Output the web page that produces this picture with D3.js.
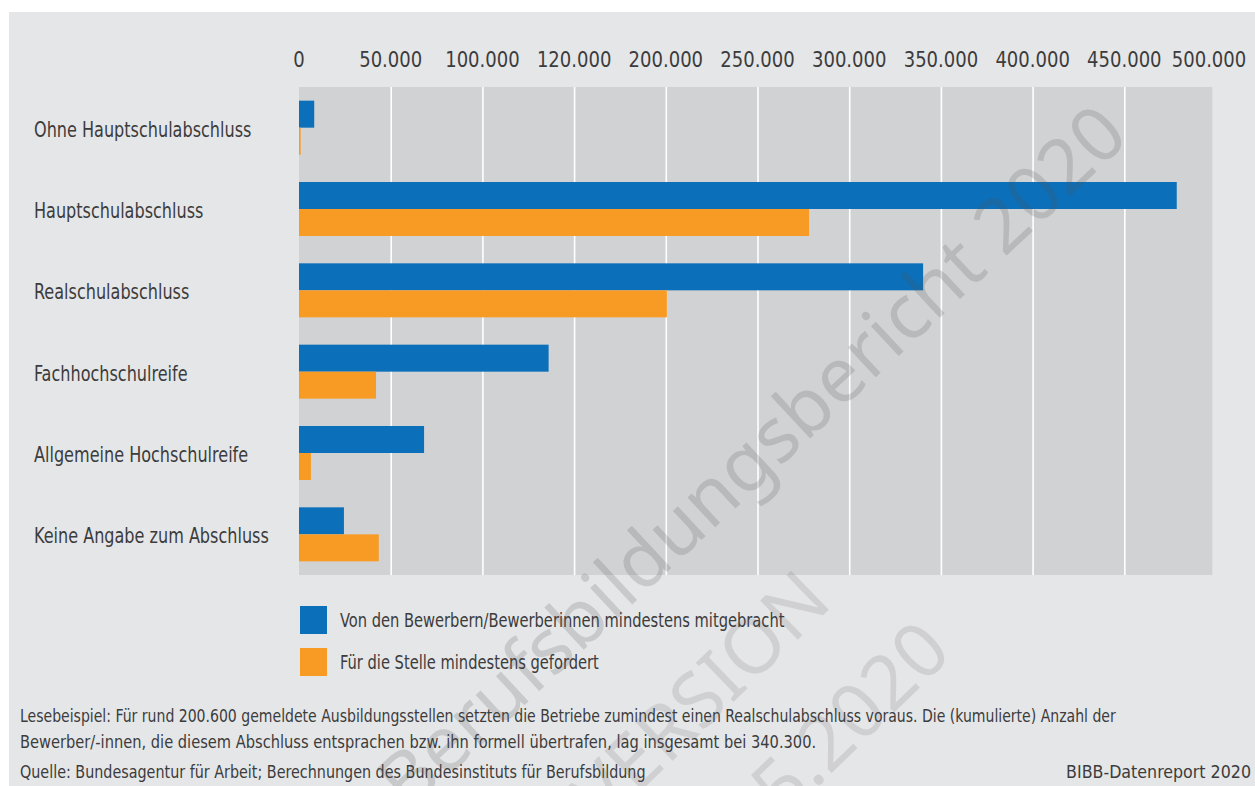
<!DOCTYPE html>
<html>
<head>
<meta charset="utf-8">
<script src="https://cdn.jsdelivr.net/npm/d3@7"></script>
<style>
  html, body { margin: 0; padding: 0; background: #ffffff; }
  svg { display: block; }
  .lbl { font-family: "DejaVu Sans Condensed", "DejaVu Sans", sans-serif; font-stretch: condensed; fill: #3c3c3c; }
  .wm { font-family: "Noto Sans", "DejaVu Sans", sans-serif; }
</style>
</head>
<body>
<svg id="chart" width="1255" height="786"></svg>
<script>
// Schulabschlüsse (kumuliert), Anzahl
const categories = [
  "Ohne Hauptschulabschluss",
  "Hauptschulabschluss",
  "Realschulabschluss",
  "Fachhochschulreife",
  "Allgemeine Hochschulreife",
  "Keine Angabe zum Abschluss"
];
const mitgebracht = [8300, 478600, 340300, 136100, 68200, 24500];
const gefordert   = [900, 278100, 200600, 42000, 6500, 43500];

const seriesNames = [
  "Von den Bewerbern/Bewerberinnen mindestens mitgebracht",
  "Für die Stelle mindestens gefordert"
];

const tickValues = [0, 50000, 100000, 150000, 200000, 250000, 300000, 350000, 400000, 450000, 500000];
const tickLabels = ["0", "50.000", "100.000", "120.000", "200.000", "250.000", "300.000", "350.000", "400.000", "450.000", "500.000"];

const noteLines = [
  "Lesebeispiel: Für rund 200.600 gemeldete Ausbildungsstellen setzten die Betriebe zumindest einen Realschulabschluss voraus. Die (kumulierte) Anzahl der",
  "Bewerber/-innen, die diesem Abschluss entsprachen bzw. ihn formell übertrafen, lag insgesamt bei 340.300."
];
const sourceText = "Quelle: Bundesagentur für Arbeit; Berechnungen des Bundesinstituts für Berufsbildung";
const creditText = "BIBB-Datenreport 2020";

// ---- layout ----
const W = 1255, H = 786;
const plotTop = 87, plotBottom = 575;
const axisMax = 498000;             // right edge of the grey plot area
const colBlue = "#0b6fba", colOrange = "#f89b24";

// squeeze a text horizontally to a fraction of its natural width
function condense(sel, ratio) {
  sel.each(function () {
    const len = this.getComputedTextLength();
    d3.select(this).attr("textLength", len * ratio).attr("lengthAdjust", "spacingAndGlyphs");
  });
  return sel;
}

const svg = d3.select("#chart");

svg.append("rect").attr("x", 9).attr("y", 12).attr("width", W - 9).attr("height", H - 12)
  .attr("fill", "#e5e6e8");

const x = d3.scaleLinear().domain([0, 500000]).range([299, 1216]);
const y = d3.scaleBand().domain(categories).range([plotTop, plotBottom])
  .paddingInner(0.336).paddingOuter(0.168);

// plot area
svg.append("rect")
  .attr("x", x(0)).attr("y", plotTop)
  .attr("width", x(axisMax) - x(0)).attr("height", plotBottom - plotTop)
  .attr("fill", "#d1d2d4");

// vertical grid lines
const grid = svg.append("g").attr("transform", `translate(0,${plotTop})`)
  .call(d3.axisBottom(x)
    .tickValues(tickValues.filter(v => v > 0 && v < axisMax))
    .tickSize(plotBottom - plotTop).tickFormat(""));
grid.select(".domain").remove();
grid.selectAll(".tick line").attr("stroke", "#ffffff").attr("stroke-width", 1.6);

// value axis labels on top
const axisTop = svg.append("g").attr("transform", "translate(0,67)")
  .call(d3.axisTop(x).tickValues(tickValues)
    .tickFormat((d, i) => tickLabels[i]).tickSize(0).tickPadding(0));
axisTop.select(".domain").remove();
axisTop.attr("font-family", null).attr("font-size", null);
axisTop.selectAll(".tick").attr("transform", d => `translate(${Math.min(x(d), 1209)},0)`);
condense(axisTop.selectAll(".tick text")
  .attr("class", "lbl")
  .attr("font-size", 22)
  .attr("fill", "#3c3c3c"), 0.91);

// bars
const bh = y.bandwidth() / 2;
const bars = svg.append("g");
bars.selectAll("rect.blue").data(categories).join("rect")
  .attr("class", "blue")
  .attr("x", x(0)).attr("y", d => y(d))
  .attr("width", (d, i) => x(mitgebracht[i]) - x(0)).attr("height", bh)
  .attr("fill", colBlue);
bars.selectAll("rect.orange").data(categories).join("rect")
  .attr("class", "orange")
  .attr("x", x(0)).attr("y", d => y(d) + bh)
  .attr("width", (d, i) => x(gefordert[i]) - x(0)).attr("height", bh)
  .attr("fill", colOrange);

// category labels
condense(svg.append("g").selectAll("text").data(categories).join("text")
  .attr("class", "lbl")
  .attr("x", 34).attr("y", d => y(d) + y.bandwidth() / 2 + 9)
  .attr("font-size", 21)
  .text(d => d), 0.85);

// legend
const legend = svg.append("g");
const legY = [606, 648];
const legCol = [colBlue, colOrange];
seriesNames.forEach((name, i) => {
  legend.append("rect").attr("x", 300).attr("y", legY[i]).attr("width", 27).attr("height", 28)
    .attr("fill", legCol[i]);
  condense(legend.append("text").attr("class", "lbl").attr("x", 340).attr("y", legY[i] + 21)
    .attr("font-size", 20).text(name), 0.815);
});

// notes and source
const noteSqueeze = [0.867, 0.904];
const noteY = [722, 748];
noteLines.forEach((t, i) => {
  condense(svg.append("text").attr("class", "lbl").attr("x", 20).attr("y", noteY[i])
    .attr("font-size", 18).text(t), noteSqueeze[i]);
});
condense(svg.append("text").attr("class", "lbl").attr("x", 20).attr("y", 778)
  .attr("font-size", 18).text(sourceText), 0.885);
condense(svg.append("text").attr("class", "lbl").attr("x", 1251).attr("y", 778)
  .attr("text-anchor", "end").attr("font-size", 18).text(creditText), 0.98);

// diagonal overprint
const wm = svg.append("g").attr("pointer-events", "none");
wm.append("text").attr("class", "wm")
  .attr("transform", "translate(1114,121) rotate(-43)")
  .attr("text-anchor", "end").attr("dy", "0.33em")
  .attr("font-size", 76).attr("fill", "#555555").attr("fill-opacity", 0.2)
  .text("Berufsbildungsbericht 2020");
wm.append("text").attr("class", "wm")
  .attr("transform", "translate(815,585) rotate(-44)")
  .attr("text-anchor", "end").attr("dy", "0.36em")
  .attr("font-size", 76).attr("fill", "#555555").attr("fill-opacity", 0.15)
  .text("VERSION");
wm.append("text").attr("class", "wm")
  .attr("transform", "translate(935,635) rotate(-44)")
  .attr("text-anchor", "end").attr("dy", "0.36em")
  .attr("font-size", 76).attr("fill", "#555555").attr("fill-opacity", 0.15)
  .text("5.2020");
</script>
</body>
</html>
